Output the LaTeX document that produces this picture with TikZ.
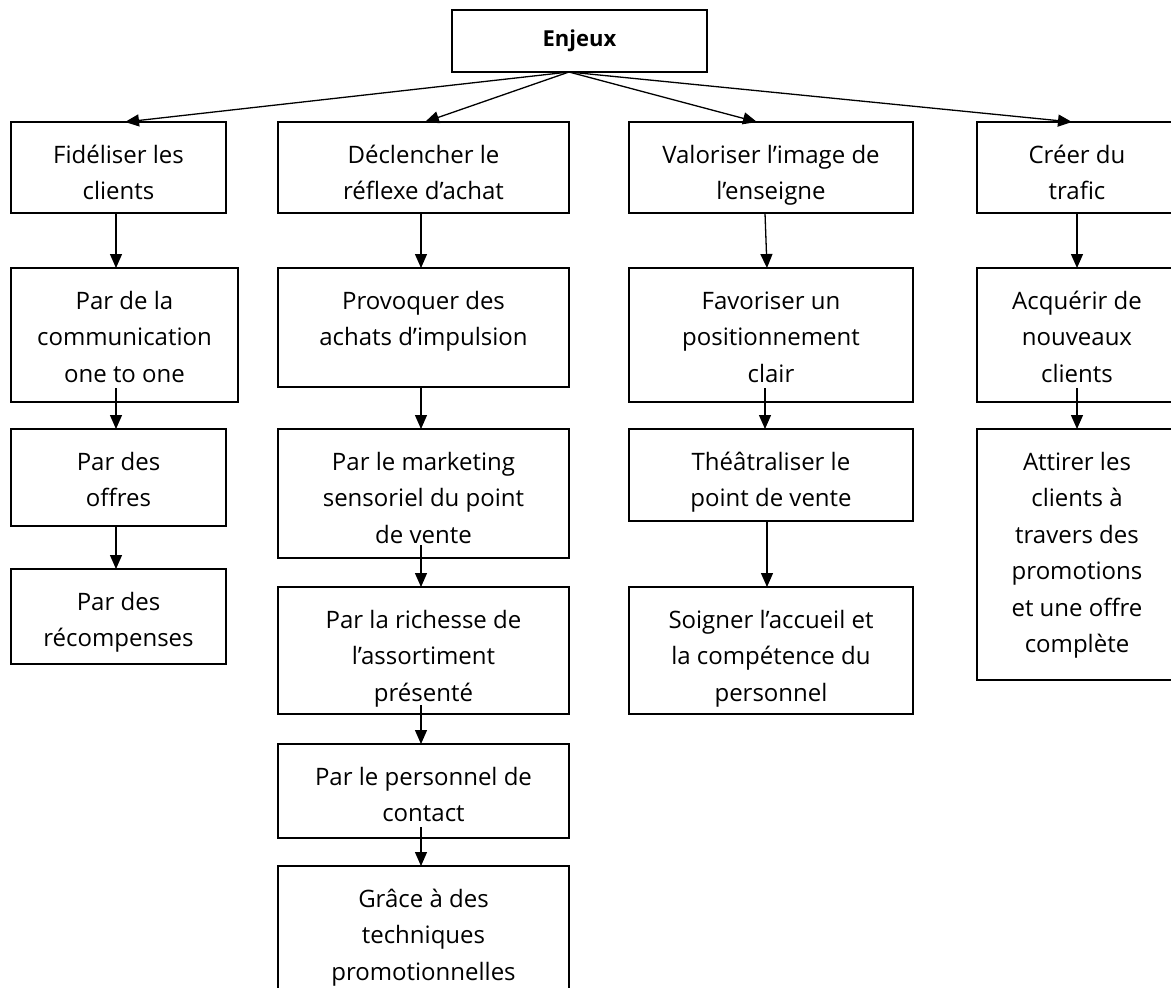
\documentclass[tikz,border=0pt]{standalone}
\usepackage{fontspec}
\setmainfont{Open Sans}
\usetikzlibrary{arrows.meta,calc}
\tikzset{
  boxst/.style={draw, line width=1.3pt, inner sep=0pt, outer sep=0pt,
    font=\fontsize{24}{36.5}\selectfont},
  arr/.style={line width=1.3pt, -{Triangle[length=14pt,width=12pt]}},
}
\newcommand{\mybox}[6]{%
  \node[boxst] (#1) at ({(#2+#4)/2},{(#3+#5)/2})
    {\parbox[c][\dimexpr #5pt-#3pt\relax][t]{\dimexpr #4pt-#2pt\relax}{\centering\rule{0pt}{41pt}#6\par}};}
\begin{document}
\begin{tikzpicture}[x=1pt,y=-1pt]
\useasboundingbox[fill=white] (0,0) rectangle (1171,988);
% top
\node[draw, line width=1.3pt, inner sep=0pt, outer sep=0pt, minimum width=255pt, minimum height=62pt,
  font=\fontsize{22}{26}\selectfont\bfseries] (enj) at (579.5,41) {Enjeux};
% column A
\mybox{a1}{11}{122}{226}{213}{Fidéliser les\\clients}
\mybox{a2}{11}{268}{238}{402}{Par de la\\communication\\one to one}
\mybox{a3}{11}{429}{226}{526}{Par des\\offres}
\mybox{a4}{11}{569}{226}{664}{Par des\\récompenses}
% column B
\mybox{b1}{278}{122}{569}{213}{Déclencher le\\réflexe d’achat}
\mybox{b2}{278}{268}{569}{387}{Provoquer des\\achats d’impulsion}
\mybox{b3}{278}{429}{569}{558}{Par le marketing\\sensoriel du point\\de vente}
\mybox{b4}{278}{587}{569}{714}{Par la richesse de\\l’assortiment\\présenté}
\mybox{b5}{278}{744}{569}{838}{Par le personnel de\\contact}
\mybox{b6}{278}{866}{569}{996}{Grâce à des\\techniques\\promotionnelles}
% column C
\mybox{c1}{629}{122}{913}{213}{Valoriser l’image de\\l’enseigne}
\mybox{c2}{629}{268}{913}{402}{Favoriser un\\positionnement\\clair}
\mybox{c3}{629}{429}{913}{521}{Théâtraliser le\\point de vente}
\mybox{c4}{629}{587}{913}{714}{Soigner l’accueil et\\la compétence du\\personnel}
% column D
\mybox{d1}{977}{122}{1177}{213}{Créer du\\trafic}
\mybox{d2}{977}{268}{1177}{402}{Acquérir de\\nouveaux\\clients}
\mybox{d3}{977}{429}{1177}{680}{Attirer les\\clients à\\travers des\\promotions\\et une offre\\complète}
% arrows from Enjeux
\coordinate (src) at ($(enj.south)+(-10.5,0)$);
\draw[arr] (src) -- ($(a1.north)+(6.5,0)$);
\draw[arr] (src) -- ($(b1.north)+(1.5,0)$);
\draw[arr] (src) -- ($(c1.north)+(-14,0)$);
\draw[arr] (src) -- ($(d1.north)+(-5,0)$);
% column A
\draw[arr] ($(a1.south)+(-2.5,0)$) -- ($(a2.north)+(-8.5,0)$);
\draw[arr] ($(a2.south)+(-8.5,-14)$) -- ($(a3.north)+(-2.5,0)$);
\draw[arr] ($(a3.south)+(-2.5,0)$) -- ($(a4.north)+(-2.5,0)$);
% column B
\draw[arr] ($(b1.south)+(-2.5,0)$) -- ($(b2.north)+(-2.5,0)$);
\draw[arr] ($(b2.south)+(-2.5,0)$) -- ($(b3.north)+(-2.5,0)$);
\draw[arr] ($(b3.south)+(-2.5,-13)$) -- ($(b4.north)+(-2.5,0)$);
\draw[arr] ($(b4.south)+(-2.5,-9)$) -- ($(b5.north)+(-2.5,0)$);
\draw[arr] ($(b5.south)+(-2.5,-11)$) -- ($(b6.north)+(-2.5,0)$);
% column C
\draw[arr] ($(c1.south)+(-6,0)$) -- ($(c2.north)+(-4,0)$);
\draw[arr] ($(c2.south)+(-6,-14)$) -- ($(c3.north)+(-6,0)$);
\draw[arr] ($(c3.south)+(-4,0)$) -- ($(c4.north)+(-4,0)$);
% column D
\draw[arr] (d1.south) -- (d2.north);
\draw[arr] ($(d2.south)+(0,-14)$) -- (d3.north);
\end{tikzpicture}
\end{document}
